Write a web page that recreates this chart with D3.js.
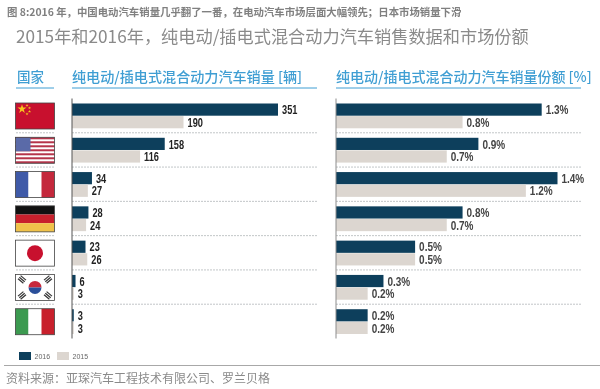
<!DOCTYPE html>
<html>
<head>
<meta charset="utf-8">
<script src="https://cdn.jsdelivr.net/npm/d3@7"></script>
<style>
  html, body { margin: 0; padding: 0; background: #fff; }
  svg { display: block; filter: blur(0.3px); }
  text { font-family: "Noto Sans CJK SC", "Liberation Sans", sans-serif; }
  .num { font-family: "Liberation Sans", Arial, sans-serif; font-weight: 700; }
</style>
</head>
<body>
<svg id="chart"></svg>
<script>
const countries = ["cn", "us", "fr", "de", "jp", "kr", "it"];
const sales2016 = [351, 158, 34, 28, 23, 6, 3];
const sales2015 = [190, 116, 27, 24, 26, 3, 3];
const share2016 = [1.3, 0.9, 1.4, 0.8, 0.5, 0.3, 0.2];
const share2015 = [0.8, 0.7, 1.2, 0.7, 0.5, 0.2, 0.2];
const seriesNames = ["2016", "2015"];
const seriesColors = ["#0d3f5c", "#dcd6d0"];

const captionText = "图 8:2016 年，中国电动汽车销量几乎翻了一番，在电动汽车市场层面大幅领先；日本市场销量下滑";
const titleText = "2015年和2016年，纯电动/插电式混合动力汽车销售数据和市场份额";
const headCountry = "国家";
const headSales = "纯电动/插电式混合动力汽车销量 [辆]";
const headShare = "纯电动/插电式混合动力汽车销量份额 [%]";
const sourceText = "资料来源：亚琛汽车工程技术有限公司、罗兰贝格";

const W = 600, H = 389;
const svg = d3.select("#chart").attr("width", W).attr("height", H);

const blue = "#3f9ed3";

// rows
const y = d3.scaleBand().domain(countries).range([98.5, 338.5]).padding(0);
const barH = 12.6;
const barTop = c => y(c) + 5;

// x scales, one per panel
const xSales = d3.scaleLinear().domain([0, 351]).range([72, 278]);
const xShare = d3.scaleLinear().domain([0, 1.4]).range([336, 557.5]);

// top texts
svg.append("text").attr("x", 7).attr("y", 15.5)
    .attr("font-size", 10.4).attr("font-weight", 700).attr("fill", "#808080")
    .text(captionText);
svg.append("text").attr("x", 16).attr("y", 43)
    .attr("font-size", 17.2).attr("fill", "#8a8a8a")
    .text(titleText);

// column heads
const heads = [
    { text: headCountry, x: 17, x1: 16, x2: 54, size: 13.5 },
    { text: headSales, x: 72, x1: 72, x2: 317, size: 14.1 },
    { text: headShare, x: 336, x1: 336, x2: 581, size: 14 }
];
heads.forEach(h => {
    svg.append("text").attr("x", h.x).attr("y", 81.5)
        .attr("font-size", h.size).attr("font-weight", 500).attr("fill", blue)
        .text(h.text);
    svg.append("line").attr("x1", h.x1).attr("x2", h.x2)
        .attr("y1", 88).attr("y2", 88)
        .attr("stroke", blue).attr("stroke-width", 1);
});

// dashed row separators
const seps = countries.slice(1);
[[16, 54], [72, 317], [336, 581]].forEach(([a, b]) => {
    svg.append("g").selectAll("line").data(seps).join("line")
        .attr("x1", a).attr("x2", b)
        .attr("y1", d => y(d)).attr("y2", d => y(d))
        .attr("stroke", "#c2c6c8").attr("stroke-dasharray", "2,1");
});

function drawPanel(x, v2016, v2015, fmt, labelColor, squeeze, axisColor) {
    const g = svg.append("g");
    [v2016, v2015].forEach((vals, s) => {
        g.append("g").selectAll("rect").data(countries).join("rect")
            .attr("x", x(0))
            .attr("y", c => barTop(c) + s * barH)
            .attr("width", (c, i) => x(vals[i]) - x(0))
            .attr("height", barH - 0.4)
            .attr("fill", seriesColors[s]);
        // labels are narrower than any installed sans, so squeeze them
        g.append("g").selectAll("text").data(countries).join("text")
            .attr("class", "num")
            .attr("transform", (c, i) => `translate(${x(vals[i]) + 4},${barTop(c) + s * barH + 10.8}) scale(${squeeze},1)`)
            .attr("font-size", 12.5).attr("fill", labelColor)
            .text((c, i) => fmt(vals[i]));
    });
    // baseline
    g.append("line").attr("x1", x(0)).attr("x2", x(0))
        .attr("y1", 98.5).attr("y2", 338.5)
        .attr("stroke", axisColor).attr("stroke-width", 1);
}
drawPanel(xSales, sales2016, sales2015, d => d, "#222", 0.74, "#555");
drawPanel(xShare, share2016, share2015, d => d.toFixed(1) + "%", "#444", 0.8, "#8c8c8c");

// flags, 39 x 26
const flagW = 39, flagH = 26;
const starPath = s => d3.symbol(d3.symbolStar, s)();

const flagDraw = {
    cn(g) {
        g.append("rect").attr("width", flagW).attr("height", flagH).attr("fill", "#c8102e");
        g.append("path").attr("d", starPath(26)).attr("transform", "translate(6.5,6)").attr("fill", "#f6c51e");
        [[11.5, 2.5], [14, 5], [14, 8.5], [11.5, 11]].forEach(p => {
            g.append("path").attr("d", starPath(3)).attr("transform", `translate(${p})`).attr("fill", "#f6c51e");
        });
    },
    us(g) {
        g.append("rect").attr("width", flagW).attr("height", flagH).attr("fill", "#fff");
        d3.range(0, 13, 2).forEach(i => {
            g.append("rect").attr("y", i * flagH / 13).attr("width", flagW)
                .attr("height", flagH / 13).attr("fill", "#b5344a");
        });
        g.append("rect").attr("width", 15).attr("height", 14).attr("fill", "#5a6aa8");
    },
    fr(g) {
        ["#3f5aa8", "#fff", "#c4283c"].forEach((c, i) => {
            g.append("rect").attr("x", i * flagW / 3).attr("width", flagW / 3)
                .attr("height", flagH).attr("fill", c);
        });
    },
    de(g) {
        ["#111", "#c8202c", "#f0c24a"].forEach((c, i) => {
            g.append("rect").attr("y", i * flagH / 3).attr("width", flagW)
                .attr("height", flagH / 3).attr("fill", c);
        });
    },
    jp(g) {
        g.append("rect").attr("width", flagW).attr("height", flagH).attr("fill", "#fff");
        g.append("circle").attr("cx", flagW / 2).attr("cy", flagH / 2).attr("r", 8).attr("fill", "#c8102e");
    },
    kr(g) {
        g.append("rect").attr("width", flagW).attr("height", flagH).attr("fill", "#fff");
        const cx = flagW / 2, cy = flagH / 2, r = 6.5;
        g.append("path").attr("d", `M${cx - r},${cy}A${r},${r} 0 0 1 ${cx + r},${cy}Z`).attr("fill", "#c8283c");
        g.append("path").attr("d", `M${cx - r},${cy}A${r},${r} 0 0 0 ${cx + r},${cy}Z`).attr("fill", "#2a4f9a");
        [[-13, -8, 40], [13, -8, -40], [-13, 8, -40], [13, 8, 40]].forEach(([dx, dy, a]) => {
            const t = g.append("g").attr("transform", `translate(${cx + dx},${cy + dy}) rotate(${a})`);
            [-2, 0, 2].forEach(o => {
                t.append("rect").attr("x", -3.5).attr("y", o - 0.6).attr("width", 7).attr("height", 1.2).attr("fill", "#333");
            });
        });
    },
    it(g) {
        ["#3c9a50", "#fff", "#c8202c"].forEach((c, i) => {
            g.append("rect").attr("x", i * flagW / 3).attr("width", flagW / 3)
                .attr("height", flagH).attr("fill", c);
        });
    }
};
countries.forEach(c => {
    const g = svg.append("g").attr("transform", `translate(15.5,${barTop(c) - 0.5})`);
    flagDraw[c](g);
    g.append("rect").attr("width", flagW).attr("height", flagH)
        .attr("fill", "none").attr("stroke", "#444").attr("stroke-width", 0.8);
});

// legend
const legendX = d3.scaleOrdinal().domain(seriesNames).range([19, 57]);
const legend = svg.append("g").selectAll("g").data(seriesNames).join("g")
    .attr("transform", d => `translate(${legendX(d)},352)`);
legend.append("rect").attr("width", 12).attr("height", 8)
    .attr("fill", (d, i) => seriesColors[i]);
legend.append("text").attr("x", 15.5).attr("y", 7)
    .attr("font-size", 7).attr("fill", "#666")
    .style("font-family", "Liberation Sans")
    .text(d => d);

// footer
svg.append("line").attr("x1", 4).attr("x2", W).attr("y1", 365.5).attr("y2", 365.5)
    .attr("stroke", "#a8a8a8").attr("stroke-width", 1);
svg.append("text").attr("x", 6).attr("y", 383)
    .attr("font-size", 12).attr("fill", "#8a8a8a")
    .text(sourceText);
</script>
</body>
</html>
